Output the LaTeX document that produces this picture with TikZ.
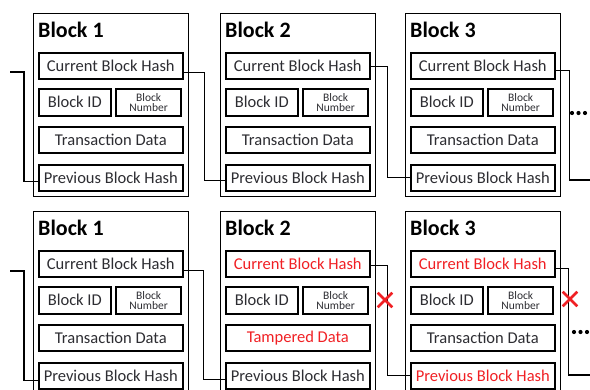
\documentclass[tikz,border=0pt]{standalone}
\usepackage{fontspec}
\setmainfont{Carlito}
\usepackage{tikz}
\usepackage{xcolor}
\usetikzlibrary{calc}
\usetikzlibrary{shapes.misc}
\definecolor{tamper}{RGB}{240,32,36}
\definecolor{ink}{RGB}{45,45,50}
\tikzset{blockbox/.style={draw, line width=1.4pt, anchor=north west,
   minimum width=155, minimum height=183, inner sep=0pt},
 field/.style={draw, line width=1.6pt, inner sep=0pt, text=ink,
   font=\fontsize{16.5}{18}\selectfont},
 hashbox/.style={field, anchor=north west, minimum width=144, minimum height=26},
 idbox/.style={field, anchor=north west, minimum width=72, minimum height=27},
 numbox/.style={field, anchor=north east, minimum width=65, minimum height=27,
   align=center, font=\fontsize{11.5}{10.5}\selectfont},
 blocktitle/.style={anchor=base west, inner sep=0pt, text=black,
   font=\fontsize{22}{24}\selectfont\bfseries},
 link/.style={draw, line width=1.2pt},
 broken/.style={draw=tamper, cross out, line width=2.6pt, minimum size=12, inner sep=0pt},
 }
% #1 name, #2 left, #3 top, #4 number, #5 current hash colour, #6 data, #7 previous hash colour
\newcommand{\chainblock}[7]{%
  \node[blockbox] (#1) at (#2,#3) {};
  \node[blocktitle] (#1title) at ($(#1.north west)+(5,24)$) {Block #4};
  \node[hashbox, text=#5] (#1cur) at ($(#1.north west)+(5,39)$) {Current Block Hash};
  \node[idbox] (#1id) at ($(#1.north west)+(5,75)$) {Block ID};
  \node[numbox] (#1num) at ($(#1.north west)+(149,75)$) {Block\\Number};
  \node[hashbox] (#1data) at ($(#1.north west)+(5,113)$) {#6};
  \node[hashbox, text=#7] (#1prev) at ($(#1.north west)+(5,151)$) {Previous Block Hash};
}

\begin{document}
\begin{tikzpicture}[x=1pt,y=-1pt]
    \useasboundingbox (0,0) rectangle (590,389);
    \begin{scope}
    \clip (0,0) rectangle (590,389);

    % untouched chain
    \chainblock{t1}{33}{13}{1}{ink}{Transaction Data}{ink}
    \chainblock{t2}{220}{13}{2}{ink}{Transaction Data}{ink}
    \chainblock{t3}{405}{13}{3}{ink}{Transaction Data}{ink}

    \coordinate (tin) at (10,72);
    \coordinate (tout) at (592,180);
    \draw[link] (tin) -- ++(14,0) |- ([yshift=-4pt]t1prev.west);
    \draw[link] ([yshift=-7pt]t1cur.east) -- ++(21,0) |- ([yshift=-3pt]t2prev.west);
    \draw[link] ([yshift=-1pt]t2cur.east) -- ++(17,0) |- (t3prev.west);
    \draw[link] ([yshift=-5pt]t3cur.east) -- ++(14,0) |- (tout);
    \foreach \dx in {572,578.5,585}
        \fill (\dx,113) circle (2.1pt);

    % chain with block 2 tampered
    \chainblock{b1}{33}{211}{1}{ink}{Transaction Data}{ink}
    \chainblock{b2}{220}{211}{2}{tamper}{\textcolor{tamper}{Tampered Data}}{ink}
    \chainblock{b3}{405}{211}{3}{tamper}{Transaction Data}{tamper}

    \coordinate (bin) at (10,271);
    \coordinate (bout) at (592,375);
    \draw[link] (bin) -- ++(14,0) |- ([yshift=-5pt]b1prev.west);
    \draw[link] ([yshift=-7pt]b1cur.east) -- ++(20,0) |- ([yshift=-4pt]b2prev.west);
    \draw[link] ([yshift=-2pt]b2cur.east) -- ++(17,0) |- (b3prev.west);
    \draw[link] ([yshift=-5pt]b3cur.east) -- ++(13,0) |- (bout);
    \node[broken] (x23) at (385,300) {};
    \node[broken] (x3) at (570,299) {};
    \foreach \dx in {574,580.5,587}
        \fill (\dx,332) circle (2.1pt);
    \end{scope}
\end{tikzpicture}
\end{document}
